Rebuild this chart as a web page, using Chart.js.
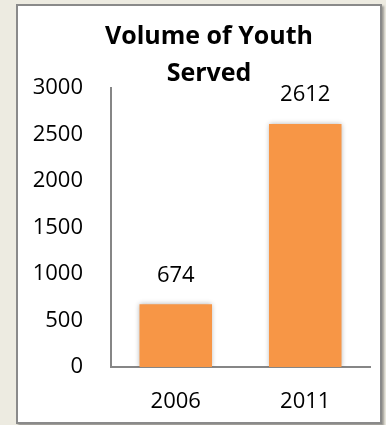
<!DOCTYPE html>
<html>
<head>
<meta charset="utf-8">
<script src="https://cdn.jsdelivr.net/npm/chart.js@4"></script>
<style>
  html, body { margin: 0; padding: 0; background: #edebe1; }
  #panel {
    position: absolute; left: 16px; top: 4px;
    width: 362px; height: 416px;
    background: #fff;
    border: 2px solid #8a8a8a;
    box-shadow: 2px 2px 2px rgba(0,0,0,0.35);
  }
  #chart { display: block; }
</style>
</head>
<body>
<div id="panel"><canvas id="chart" width="362" height="416"></canvas></div>
<script>
const years = ["2006", "2011"];
const youthServed = [674, 2612];
const yTicks = [0, 500, 1000, 1500, 2000, 2500, 3000];

const font = { family: "'Open Sans', sans-serif", size: 22 };

// soft shadow around the bars
const barShadow = {
  id: "barShadow",
  beforeDatasetDraw(chart) {
    const c = chart.ctx;
    c.save();
    c.shadowColor = "rgba(0,0,0,0.3)";
    c.shadowBlur = 5;
  },
  afterDatasetDraw(chart) {
    chart.ctx.restore();
  }
};

// value printed above each bar
const valueLabels = {
  id: "valueLabels",
  afterDatasetsDraw(chart) {
    const c = chart.ctx;
    const meta = chart.getDatasetMeta(0);
    c.save();
    c.font = font.size + "px " + font.family;
    c.fillStyle = "#000";
    c.textAlign = "center";
    c.textBaseline = "middle";
    meta.data.forEach((bar, i) => {
      c.fillText(String(youthServed[i]), bar.x, bar.y - 29);
    });
    c.restore();
  }
};

// title sits a little right of the canvas centre
const titleShift = {
  id: "titleShift",
  afterLayout(chart) {
    if (chart.titleBlock) chart.titleBlock.left += 22;
  }
};

new Chart(document.getElementById("chart"), {
  type: "bar",
  data: {
    labels: years,
    datasets: [{
      data: youthServed,
      backgroundColor: "#f79646",
      borderWidth: 0,
      barPercentage: 0.56,
      categoryPercentage: 1
    }]
  },
  options: {
    responsive: false,
    animation: false,
    layout: { padding: { left: 8, right: 10, top: 0, bottom: 6 } },
    plugins: {
      legend: { display: false },
      tooltip: { enabled: false },
      title: {
        display: true,
        text: ["Volume of Youth", "Served"],
        color: "#000",
        font: { family: font.family, size: 25, weight: "bold", lineHeight: 37 / 25 },
        padding: { top: 12, bottom: -4 }
      }
    },
    scales: {
      x: {
        afterFit(axis) { axis.height = 49; },
        grid: { display: false, drawTicks: false },
        border: { display: true, color: "#868686", width: 2 },
        ticks: { color: "#000", font: font, padding: 22 }
      },
      y: {
        min: 0,
        max: 3000,
        afterBuildTicks(axis) {
          axis.ticks = yTicks.map(v => ({ value: v }));
        },
        afterFit(axis) { axis.width = 85; },
        grid: { display: false, drawTicks: false },
        border: { display: true, color: "#868686", width: 2 },
        ticks: { color: "#000", font: font, padding: 28, callback: v => String(v) }
      }
    }
  },
  plugins: [barShadow, valueLabels, titleShift]
});
</script>
</body>
</html>
